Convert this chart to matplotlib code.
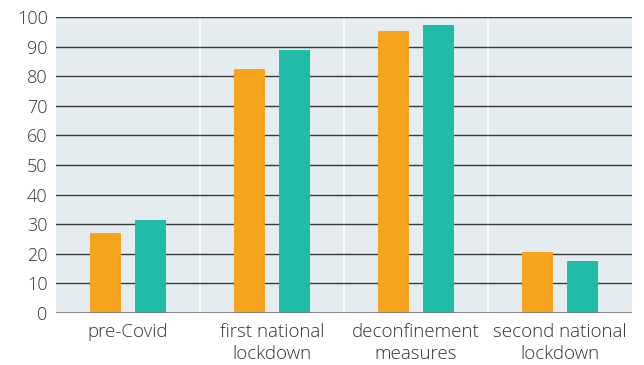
import numpy as np
import matplotlib.pyplot as plt

categories = ['pre-Covid', 'first national\nlockdown', 'deconfinement\nmeasures', 'second national\nlockdown']
orange_vals = [27.0, 82.5, 95.3, 20.6]
teal_vals = [31.4, 89.0, 97.4, 17.6]
yticks = list(range(0, 101, 10))

plt.rcParams['font.family'] = ['Open Sans', 'DejaVu Sans']

fig = plt.figure(figsize=(6.44, 3.65), dpi=100)
ax = fig.add_axes([56/644, 1-313/365, 576/644, 296/365])
ax.set_facecolor('#e4ecef')

x = np.arange(len(categories))
w = 0.215
off = 0.156
ax.bar(x - off, orange_vals, w, color='#f6a41e', zorder=3)
ax.bar(x + off, teal_vals, w, color='#21bbaa', zorder=3)

for v in yticks[1:]:
    ax.axhline(v, color='#3a3a3a', lw=1.0, zorder=2)
ax.axhline(0, color='#777777', lw=1.2, zorder=4)
for b in x[:-1] + 0.5:
    ax.axvline(b, color='white', lw=1.2, zorder=1)

ax.set_xlim(-0.5, 3.5)
ax.set_ylim(0, 100)
ax.set_yticks(yticks)
ax.set_xticks(x)
ax.set_xticklabels(categories, linespacing=1.3, fontsize=13.5)
ax.tick_params(length=0, colors='#333333')
ax.tick_params(axis='y', pad=6, labelsize=13)
ax.tick_params(axis='x', pad=7)
for lbl in ax.get_xticklabels() + ax.get_yticklabels():
    lbl.set_fontweight('light')
for s in ax.spines.values():
    s.set_visible(False)

fig.savefig('out.png', dpi=100)
